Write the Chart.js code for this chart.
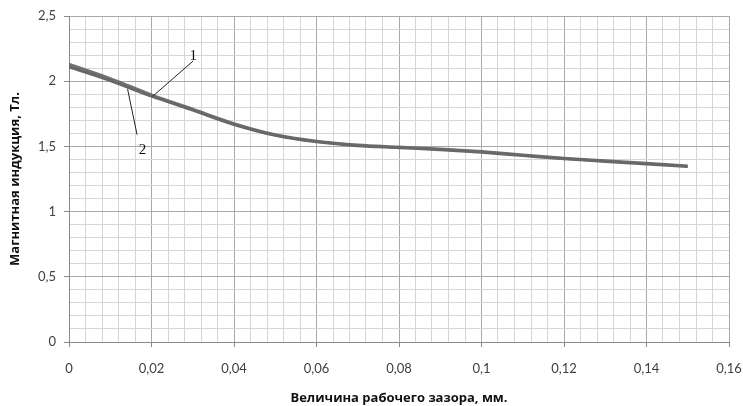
<!DOCTYPE html>
<html>
<head>
<meta charset="utf-8">
<script src="https://cdn.jsdelivr.net/npm/chart.js@4.4.1/dist/chart.umd.min.js"></script>
<style>
  html, body { margin: 0; padding: 0; background: #fff; }
  #wrap { width: 743px; height: 406px; }
</style>
</head>
<body>
<div id="wrap"><canvas id="chart"></canvas></div>
<script>
// зазор, мм
const gapValues = [0, 0.01, 0.02, 0.03, 0.04, 0.05, 0.06, 0.07, 0.08, 0.09, 0.1, 0.11, 0.12, 0.13, 0.14, 0.15];
// кривая 1 и кривая 2, Тл
const induction1 = [2.13, 2.02, 1.895, 1.785, 1.675, 1.59, 1.54, 1.51, 1.495, 1.48, 1.46, 1.435, 1.41, 1.39, 1.37, 1.35];
const induction2 = [2.11, 2.005, 1.885, 1.778, 1.668, 1.585, 1.535, 1.505, 1.49, 1.475, 1.455, 1.43, 1.405, 1.385, 1.365, 1.345];

const xMin = 0, xMax = 0.16, xMajor = 0.02, xMinor = 0.004;
const yMin = 0, yMax = 2.5, yMajor = 0.5, yMinor = 0.1;

// подписи кривых: текст, точка подписи, начало и конец выноски (в единицах данных)
const curveLabels = [
    { text: "1", at: [0.0301, 2.19], from: [0.0301, 2.155], to: [0.0203, 1.885] },
    { text: "2", at: [0.0178, 1.47], from: [0.0165, 1.59], to: [0.0142, 1.94] }
];

const isMajor = (v, step) => Math.abs(v / step - Math.round(v / step)) < 1e-6;
const fmt = v => String(+v.toFixed(3)).replace(".", ",");

function makeTicks(min, max, step) {
    const n = Math.round((max - min) / step);
    const out = [];
    for (let i = 0; i <= n; i++) out.push({ value: +(min + i * step).toFixed(4) });
    return out;
}

const curveLabelPlugin = {
    id: "curveLabels",
    afterDatasetsDraw(chart) {
        const { ctx, scales: { x, y } } = chart;
        ctx.save();
        ctx.strokeStyle = "#222";
        ctx.lineWidth = 1;
        ctx.fillStyle = "#111";
        ctx.font = "15px 'Liberation Serif'";
        ctx.textAlign = "center";
        ctx.textBaseline = "middle";
        curveLabels.forEach(l => {
            ctx.beginPath();
            ctx.moveTo(x.getPixelForValue(l.from[0]), y.getPixelForValue(l.from[1]));
            ctx.lineTo(x.getPixelForValue(l.to[0]), y.getPixelForValue(l.to[1]));
            ctx.stroke();
            ctx.fillText(l.text, x.getPixelForValue(l.at[0]), y.getPixelForValue(l.at[1]));
        });
        ctx.restore();
    }
};

const tickFont = { family: "Lato, 'Open Sans', sans-serif", size: 13 };
const titleFont = { family: "'Open Sans', sans-serif", size: 13, weight: "bold" };

new Chart(document.getElementById("chart"), {
    type: "line",
    data: {
        datasets: [
            {
                label: "1",
                data: gapValues.map((g, i) => ({ x: g, y: induction1[i] })),
                borderColor: "rgba(105,105,105,0.95)",
                borderWidth: 3,
                pointRadius: 0,
                cubicInterpolationMode: "monotone"
            },
            {
                label: "2",
                data: gapValues.map((g, i) => ({ x: g, y: induction2[i] })),
                borderColor: "rgba(95,95,95,0.95)",
                borderWidth: 3,
                pointRadius: 0,
                cubicInterpolationMode: "monotone"
            }
        ]
    },
    options: {
        responsive: true,
        maintainAspectRatio: false,
        animation: false,
        layout: { padding: { left: 0, right: 14, top: 16, bottom: 0 } },
        plugins: {
            legend: { display: false },
            tooltip: { enabled: false }
        },
        scales: {
            x: {
                type: "linear",
                min: xMin,
                max: xMax,
                afterBuildTicks: s => { s.ticks = makeTicks(xMin, xMax, xMinor); },
                afterFit: s => { s.height = 64; s.paddingLeft = 0; s.paddingRight = 0; },
                ticks: {
                    autoSkip: false,
                    maxRotation: 0,
                    padding: 14,
                    color: "#404040",
                    font: tickFont,
                    callback: v => isMajor(v, xMajor) ? fmt(v) : ""
                },
                grid: {
                    color: c => isMajor(c.tick.value, xMajor) ? "#a8a8a8" : "#d6d6d6",
                    tickColor: c => isMajor(c.tick.value, xMajor) ? "#8a8a8a" : "rgba(0,0,0,0)",
                    tickLength: 5
                },
                border: { color: "#8a8a8a" },
                title: {
                    display: true,
                    text: "Величина рабочего зазора, мм.",
                    color: "#111",
                    font: titleFont,
                    padding: { top: 2, bottom: 0 }
                }
            },
            y: {
                type: "linear",
                min: yMin,
                max: yMax,
                afterBuildTicks: s => { s.ticks = makeTicks(yMin, yMax, yMinor); },
                afterFit: s => { s.width = 69; s.paddingTop = 0; s.paddingBottom = 0; },
                ticks: {
                    autoSkip: false,
                    padding: 8,
                    color: "#404040",
                    font: tickFont,
                    callback: v => isMajor(v, yMajor) ? fmt(v) : ""
                },
                grid: {
                    color: c => isMajor(c.tick.value, yMajor) ? "#a8a8a8" : "#d6d6d6",
                    tickColor: c => isMajor(c.tick.value, yMajor) ? "#8a8a8a" : "rgba(0,0,0,0)",
                    tickLength: 5
                },
                border: { color: "#8a8a8a" },
                title: {
                    display: true,
                    text: "Магнитная индукция, Тл.",
                    color: "#111",
                    font: titleFont,
                    padding: { top: 7, bottom: 4 }
                }
            }
        }
    },
    plugins: [curveLabelPlugin]
});
</script>
</body>
</html>
